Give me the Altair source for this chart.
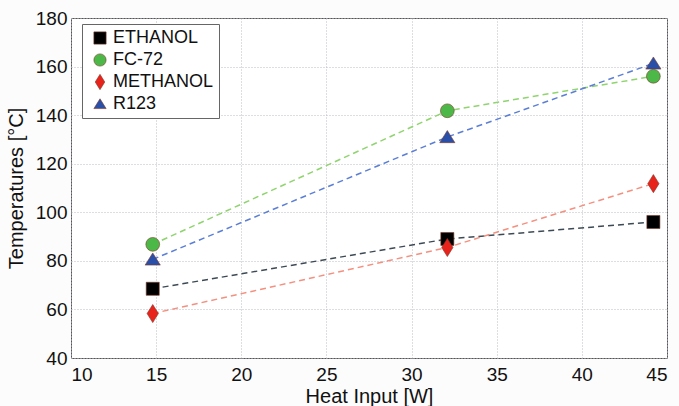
import altair as alt
import pandas as pd

series = ["ETHANOL", "FC-72", "METHANOL", "R123"]
heat = [14.8, 32.1, 44.2]
ethanol = [68.5, 89.0, 96.0]
fc72 = [86.8, 141.8, 156.0]
methanol = [58.3, 85.5, 111.8]
r123 = [80.6, 131.0, 161.3]

marker_colors = ["#000000", "#4cb847", "#e8231c", "#2a4fa8"]
line_colors = ["#3d4a55", "#8fd46e", "#f4907f", "#5c7fd6"]
shapes = ["square", "circle", "M0,-1.25L0.78,0L0,1.25L-0.78,0Z", "M0,-0.85L1,0.75L-1,0.75Z"]
sizes = [170, 230, 200, 220]

rows = []
for name, vals in zip(series, [ethanol, fc72, methanol, r123]):
    for x, y in zip(heat, vals):
        rows.append({"series": name, "line": name, "heat": x, "temp": y})
df = pd.DataFrame(rows)

font = "Liberation Sans"
xs = alt.X("heat:Q", title="Heat Input [W]",
           scale=alt.Scale(domain=[10, 45], nice=False, zero=False),
           axis=alt.Axis(values=[10, 15, 20, 25, 30, 35, 40, 45], tickSize=0,
                         labelPadding=7, titlePadding=2))
ys = alt.Y("temp:Q", title="Temperatures [°C]",
           scale=alt.Scale(domain=[40, 180], nice=False, zero=False),
           axis=alt.Axis(values=[40, 60, 80, 100, 120, 140, 160, 180], tickSize=0,
                         labelPadding=4, titlePadding=9))

leg = alt.Legend(title=None, orient="none", legendX=11, legendY=6,
                 strokeColor="#666", fillColor="white", padding=5,
                 rowPadding=4, symbolSize=150, labelFontSize=18, symbolOffset=4,
                 labelFont=font, labelColor="#111", symbolStrokeWidth=0.6)

lines = alt.Chart(df).mark_line(strokeDash=[6, 4], strokeWidth=1.5).encode(
    x=xs, y=ys,
    stroke=alt.Stroke("line:N", scale=alt.Scale(domain=series, range=line_colors), legend=None),
)

points = alt.Chart(df).mark_point(filled=True, opacity=1, stroke="#7a3a2a", strokeWidth=0.6).encode(
    x=xs, y=ys,
    fill=alt.Fill("series:N", scale=alt.Scale(domain=series, range=marker_colors), legend=leg),
    shape=alt.Shape("series:N", scale=alt.Scale(domain=series, range=shapes), legend=leg),
    size=alt.Size("series:N", scale=alt.Scale(domain=series, range=sizes), legend=None),
)

chart = alt.layer(lines, points).resolve_legend(fill="independent", shape="independent").properties(
    width=596, height=340,
    autosize=alt.AutoSizeParams(type="none"),
    padding={"left": 71, "top": 18, "right": 12, "bottom": 48},
    background="#fcfcfc",
).configure_axis(
    labelFont=font, titleFont=font, labelFontSize=19, titleFontSize=20,
    titleFontWeight="normal", labelColor="#111", titleColor="#111",
    grid=True, gridColor="#b8bcc4", gridDash=[1, 2], gridWidth=1,
    domain=False,
).configure_view(stroke="#555", strokeWidth=1, fill="white")

chart.save("out.html", embed_options={"renderer": "svg", "actions": False})
